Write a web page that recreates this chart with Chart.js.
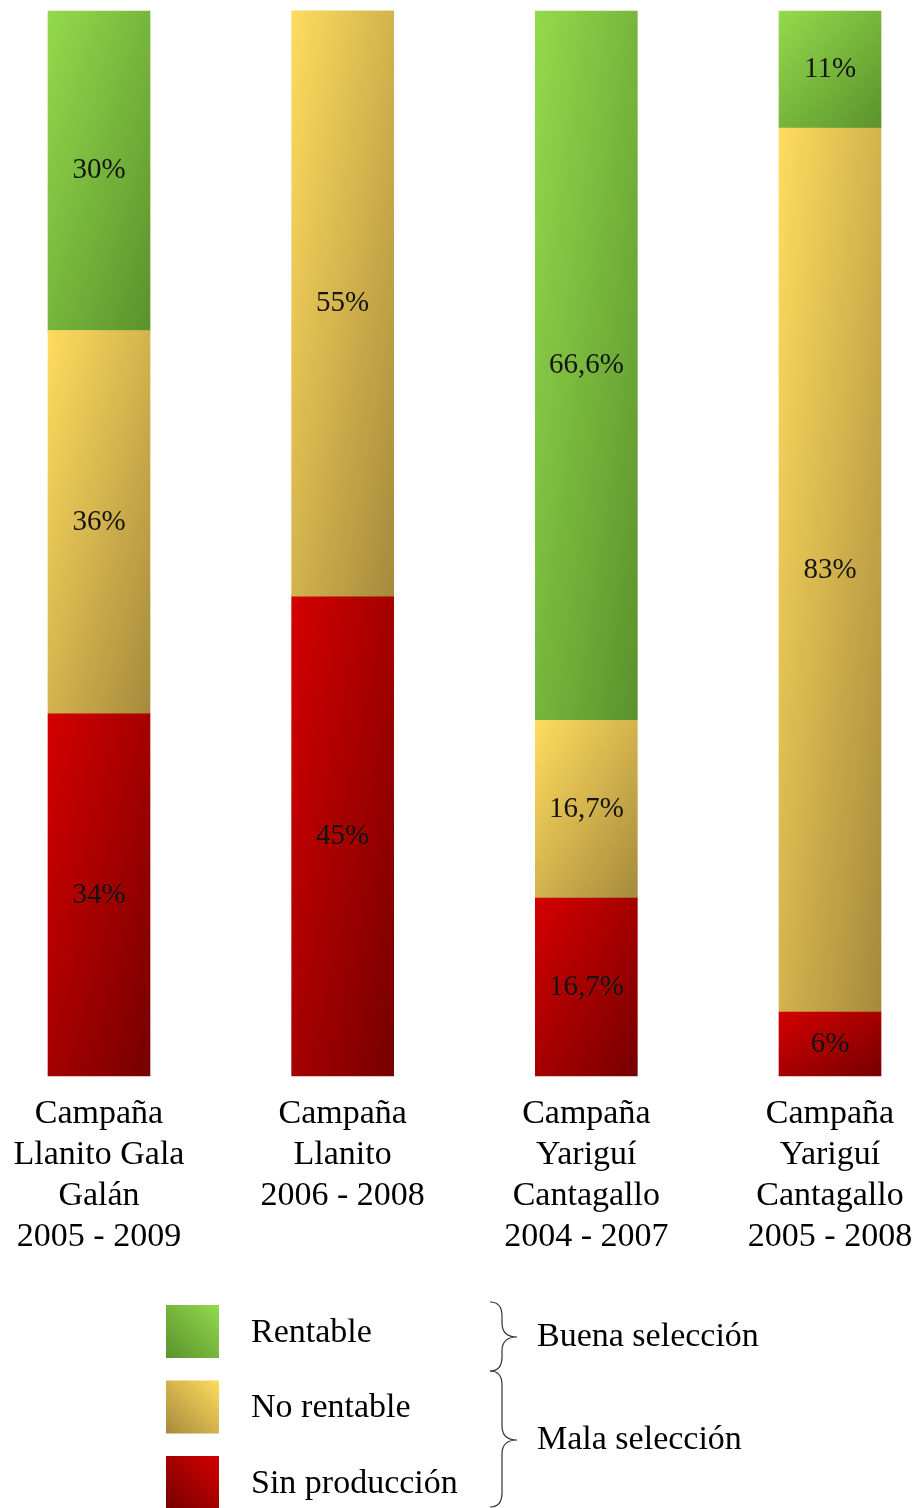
<!DOCTYPE html>
<html>
<head>
<meta charset="utf-8">
<script src="https://cdn.jsdelivr.net/npm/chart.js@4.4.0/dist/chart.umd.min.js"></script>
<style>
  html, body { margin: 0; padding: 0; background: #fff; }
  #wrap { width: 915px; height: 1508px; }
</style>
</head>
<body>
<div id="wrap"><canvas id="grafico"></canvas></div>
<script>
// Datos (porcentajes por campaña)
const categorias = [
  ["Campaña", "Llanito Gala", "Galán", "2005 - 2009"],
  ["Campaña", "Llanito", "2006 - 2008"],
  ["Campaña", "Yariguí", "Cantagallo", "2004 - 2007"],
  ["Campaña", "Yariguí", "Cantagallo", "2005 - 2008"]
];
const sinProduccion = [34, 45, 16.7, 6];
const noRentable = [36, 55, 16.7, 83];
const rentable = [30, 0, 66.6, 11];
const series = ["Sin producción", "No rentable", "Rentable"];
const grupos = ["Buena selección", "Mala selección"];

// colores: [claro, oscuro]
const colores = [
  ["#d40000", "#760000"],
  ["#ffdc5e", "#a68a3c"],
  ["#94da4c", "#5a922c"]
];

const FUENTE = "'Liberation Serif', 'Times New Roman', serif";
Chart.defaults.font.family = FUENTE;

// degradado diagonal escalado a la forma (claro arriba-izq, oscuro abajo-der)
function degradado(ctx, x0, y0, w, h, c) {
  const L2 = w * w + h * h;
  const g = ctx.createLinearGradient(x0, y0, x0 + 2 * w * h * h / L2, y0 + 2 * w * w * h / L2);
  g.addColorStop(0, c[0]);
  g.addColorStop(1, c[1]);
  return g;
}

function relleno(i) {
  return (context) => {
    const chart = context.chart;
    const { chartArea, scales } = chart;
    if (!chartArea || context.type !== "data" || !scales.x) return colores[i][0];
    const j = context.dataIndex;
    let base = 0;
    for (let k = 0; k < i; k++) base += chart.data.datasets[k].data[j];
    const tope = base + chart.data.datasets[i].data[j];
    const x = scales.x.getPixelForValue(j);
    const y0 = scales.y.getPixelForValue(tope);
    const y1 = scales.y.getPixelForValue(base);
    return degradado(chart.ctx, x - 51, y0, 102, Math.max(y1 - y0, 1), colores[i]);
  };
}

function formato(v) {
  return String(v).replace(".", ",") + "%";
}

// etiquetas de porcentaje dentro de cada segmento
const etiquetasPlugin = {
  id: "etiquetas",
  afterDatasetsDraw(chart) {
    const ctx = chart.ctx;
    ctx.save();
    ctx.font = "29px " + FUENTE;
    ctx.fillStyle = "#141414";
    ctx.textAlign = "center";
    ctx.textBaseline = "middle";
    chart.data.datasets.forEach((ds, i) => {
      const meta = chart.getDatasetMeta(i);
      meta.data.forEach((bar, j) => {
        const v = ds.data[j];
        if (!v) return;
        const p = bar.getProps(["x", "y", "base"], true);
        ctx.fillText(formato(v), p.x, (p.y + p.base) / 2);
      });
    });
    ctx.restore();
  }
};

function llave(ctx, x0, y1, y2, ym) {
  const xm = x0 + 12;
  const xt = x0 + 27;
  const k = 14;
  ctx.beginPath();
  ctx.moveTo(x0, y1);
  ctx.quadraticCurveTo(xm, y1, xm, y1 + k);
  ctx.lineTo(xm, ym - k);
  ctx.quadraticCurveTo(xm, ym, xt, ym);
  ctx.quadraticCurveTo(xm, ym, xm, ym + k);
  ctx.lineTo(xm, y2 - k);
  ctx.quadraticCurveTo(xm, y2, x0, y2);
  ctx.stroke();
}

// leyenda con llaves de agrupacion
const leyendaPlugin = {
  id: "leyenda",
  afterDraw(chart) {
    const ctx = chart.ctx;
    const orden = [2, 1, 0];
    ctx.save();
    ctx.font = "34px " + FUENTE;
    ctx.textBaseline = "middle";
    orden.forEach((ds, n) => {
      const y = 1305 + n * 75.5;
      const g = ctx.createLinearGradient(219, y, 166, y + 53);
      g.addColorStop(0, colores[ds][0]);
      g.addColorStop(1, colores[ds][1]);
      ctx.fillStyle = g;
      ctx.fillRect(166, y, 53, 53);
      ctx.fillStyle = "#000";
      ctx.fillText(chart.data.datasets[ds].label, 251, y + 28);
    });
    ctx.strokeStyle = "#333";
    ctx.lineWidth = 1.2;
    llave(ctx, 490, 1302, 1371, 1337);
    llave(ctx, 490, 1371, 1507, 1440);
    ctx.fillStyle = "#000";
    ctx.fillText(grupos[0], 537, 1337);
    ctx.fillText(grupos[1], 537, 1440);
    ctx.restore();
  }
};

new Chart(document.getElementById("grafico"), {
  type: "bar",
  data: {
    labels: categorias,
    datasets: [
      { label: series[0], data: sinProduccion, backgroundColor: relleno(0) },
      { label: series[1], data: noRentable, backgroundColor: relleno(1) },
      { label: series[2], data: rentable, backgroundColor: relleno(2) }
    ]
  },
  options: {
    responsive: true,
    maintainAspectRatio: false,
    animation: false,
    layout: { padding: { top: 11, left: 99, right: 85, bottom: 237 } },
    datasets: { bar: { barThickness: 102, borderWidth: 0, clip: false } },
    plugins: { legend: { display: false }, tooltip: { enabled: false } },
    scales: {
      x: {
        stacked: true,
        offset: false,
        grid: { display: false, drawTicks: false },
        border: { display: false },
        ticks: {
          padding: 18,
          color: "#000",
          maxRotation: 0,
          autoSkip: false,
          font: { size: 34, lineHeight: 1.2 }
        },
        afterFit(scale) {
          scale.paddingLeft = 0;
          scale.paddingRight = 0;
          scale.height = 195;
        }
      },
      y: {
        stacked: true,
        display: false,
        min: 0,
        max: 100
      }
    }
  },
  plugins: [etiquetasPlugin, leyendaPlugin]
});
</script>
</body>
</html>
